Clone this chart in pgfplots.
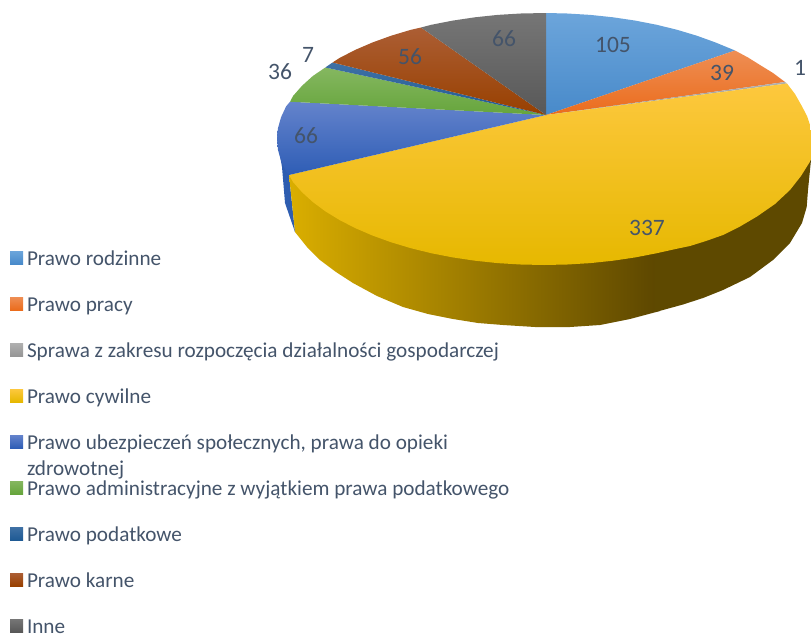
\documentclass[border=0pt]{standalone}
\usepackage{pgfplots}
\usepackage{fontspec}
\setmainfont{Carlito}
\pgfplotsset{compat=1.18}
\definecolor{txt}{HTML}{44546A}
\definecolor{sideblue}{RGB}{46,93,176}
\definecolor{sideA}{RGB}{218,174,0}
\definecolor{sideB}{RGB}{92,70,0}
\definecolor{sideC}{RGB}{94,73,0}
\definecolor{a1}{RGB}{108,165,219}\definecolor{a2}{RGB}{72,138,202}
\definecolor{b1}{RGB}{238,142,84}\definecolor{b2}{RGB}{235,108,28}
\definecolor{c1}{RGB}{176,176,176}\definecolor{c2}{RGB}{150,150,150}
\definecolor{d1}{RGB}{253,200,62}\definecolor{d2}{RGB}{255,192,0}\definecolor{d3}{RGB}{230,184,0}
\definecolor{e1}{RGB}{100,131,204}\definecolor{e2}{RGB}{46,93,181}
\definecolor{f1}{RGB}{133,183,96}\definecolor{f2}{RGB}{102,165,60}
\definecolor{g1}{RGB}{63,113,165}\definecolor{g2}{RGB}{31,90,148}
\definecolor{h1}{RGB}{172,94,52}\definecolor{h2}{RGB}{152,64,0}
\definecolor{i1}{RGB}{118,118,118}\definecolor{i2}{RGB}{88,88,88}
\begin{document}
\begin{tikzpicture}
\begin{axis}[
  scale only axis, width=811pt, height=635pt,
  xmin=0, xmax=811, ymin=0, ymax=635, y dir=reverse,
  hide axis, clip=true,
  legend cell align=left,
  legend image code/.code={\path[#1] (0pt,-3pt) rectangle (13pt,10pt);},
  legend style={at={(axis cs:10,251)}, anchor=north west, draw=none, fill=none,
    inner sep=0pt, outer sep=0pt, font=\fontsize{21.2}{24}\selectfont, text=txt,
    nodes={inner sep=0pt, text height=14pt, text depth=5pt},
    row sep=26.5pt,
    /tikz/every odd column/.append style={column sep=4pt}},
]
% sides
\addplot[forget plot, draw=none, fill=sideblue] coordinates {(277,130)(279,150)(282,167)(285,203)(295,232)(289,175)};
\addplot[forget plot, draw=none, shade, left color=sideA, right color=sideB] coordinates {(289,175)(295,232)(307,247)(320,260)(336,272)(353,283)(377,296)(403,307)(428,314)(453,319)(478,323)(503,325)(535,327)(570,327)(600,325)(630,319)(660,311)(660,240)};
\addplot[forget plot, draw=none, fill=sideC] coordinates {(655,240)(811,160)(808,190)(806.7,207)(802,223)(790,243)(773,260)(750,277)(723,290)(703,298)(683,304.5)(663,310)(655,312)};
% top faces
\addplot[draw=none, shade, top color=a1, bottom color=a2] coordinates {(546,115)(546,13)(567.3,13.5)(590.4,14.9)(613.1,17.3)(635.3,20.6)(656.8,24.8)(677.5,29.9)(697.1,35.8)(715.6,42.5)(735,50.5)};
\addlegendentry{Prawo rodzinne}
\addplot[draw=none, shade, top color=b1, bottom color=b2] coordinates {(546,115)(735,50.5)(748,57.5)(760,65)(773,73)(785,82)};
\addlegendentry{Prawo pracy}
\addplot[draw=none, shade, top color=c1, bottom color=c2] coordinates {(546,115)(785,82)(787,83.5)};
\addlegendentry{Sprawa z zakresu rozpoczęcia działalności gospodarczej}
\addplot[draw=none, shade, top color=d1, middle color=d2, bottom color=d3] coordinates {(546,115)(787,83.5)(795,94)(802,106.4)(807,116)(810,125)(811,132)(811,160)(801,176)(790,190)(775,204)(757,216.5)(740,226.5)(723,235)(706,241)(690,246)(677.5,248.6)(656.8,253.2)(635.3,257.4)(613.1,260.7)(590.4,263.1)(567.3,264.5)(544,265)(520.7,264.5)(497.6,263.1)(474.9,260.7)(452.7,257.4)(431.2,253.2)(410.5,248.1)(390.9,242.2)(372.4,235.5)(355.2,228.1)(339.5,220)(325.3,211.3)(312.8,202)(302,192.2)(293.1,182.1)(289,175)};
\addlegendentry{Prawo cywilne}
\addplot[draw=none, shade, top color=e1, bottom color=e2] coordinates {(546,115)(289,175)(286.1,171.6)(281.1,160.9)(278,150)(277,139)(278,128)(281.1,117.1)(286.1,106.4)(290,101.7)};
\addlegendentry{\smash{\parbox[t]{460pt}{\baselineskip=26pt Prawo ubezpieczeń społecznych, prawa do opieki\\zdrowotnej}}}
\addplot[draw=none, shade, top color=f1, bottom color=f2] coordinates {(546,115)(290,101.7)(293.1,95.9)(302,85.8)(312.8,76)(325.3,67.5)};
\addlegendentry{Prawo administracyjne z wyjątkiem prawa podatkowego}
\addplot[draw=none, shade, top color=g1, bottom color=g2] coordinates {(546,115)(325.3,67.5)(332.5,62.5)};
\addlegendentry{Prawo podatkowe}
\addplot[draw=none, shade, top color=h1, bottom color=h2] coordinates {(546,115)(332.5,62.5)(339.5,58)(355.2,49.9)(372.4,42.5)(390.9,35.8)(410.5,29.9)(421,27.5)};
\addlegendentry{Prawo karne}
\addplot[draw=none, shade, top color=i1, bottom color=i2] coordinates {(546,115)(421,27.5)(431.2,24.8)(452.7,20.6)(474.9,17.3)(497.6,14.9)(520.7,13.5)(546,13)};
\addlegendentry{Inne}
% data labels
\addplot[forget plot, only marks, mark=none, point meta=explicit symbolic,
  nodes near coords={\pgfplotspointmeta},
  nodes near coords style={anchor=center, inner sep=0pt, text=txt, font=\fontsize{23.5}{24}\selectfont}]
  coordinates {(613,45)[105] (722,73)[39] (800,68)[1] (647,228)[337] (306,136)[66] (280,72)[36] (308,55)[7] (410,57)[56] (504,39)[66]};
\end{axis}
\pgfresetboundingbox
\path (0,0) rectangle (811pt,635pt);
\end{tikzpicture}
\end{document}
